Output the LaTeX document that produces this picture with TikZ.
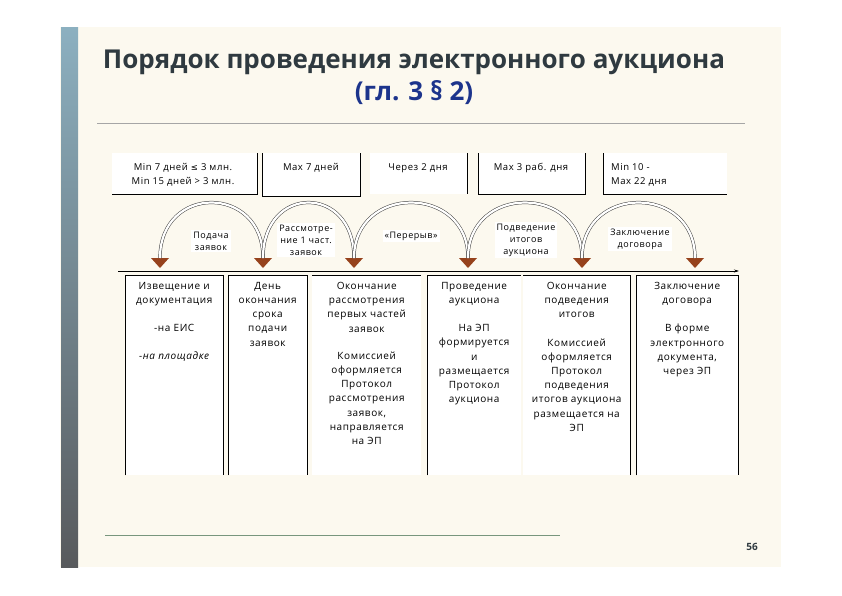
\documentclass[tikz,border=0pt]{standalone}
\usepackage{fontspec}
\setmainfont{Open Sans}[LetterSpace=6]
\newfontfamily\titlefont{Open Sans}
\newfontfamily\symfont{DejaVu Sans}
\usetikzlibrary{arrows.meta,positioning}
\definecolor{slidebg}{RGB}{252,249,239}
\definecolor{titlegray}{RGB}{47,58,64}
\definecolor{titleblue}{RGB}{28,52,140}
\definecolor{markbrown}{RGB}{150,66,28}
\definecolor{bartop}{RGB}{140,176,192}
\definecolor{barbot}{RGB}{88,90,92}
\definecolor{rulegreen}{RGB}{120,150,125}

\begin{document}
\begin{tikzpicture}[x=1pt,y=-1pt,
		panel/.style={fill=white,inner sep=0pt,anchor=north west},
		toptext/.style={font=\fontsize{9.5}{14}\selectfont,align=center,inner sep=0pt,anchor=north},
		coltext/.style={font=\fontsize{10}{14.2}\selectfont,align=center,inner sep=0pt,anchor=north},
		arclabel/.style={fill=white,font=\fontsize{9}{12}\selectfont,align=center,inner sep=2pt},
		edge/.style={black,line width=0.8pt},
		hop/.style={draw=black!75,line width=0.5pt,double=white,double distance=2.2pt},
		marker/.style={fill=markbrown}]
	% slide
	\fill[white] (0,0) rectangle (842,595);
	\fill[slidebg] (60,27) rectangle (781,567);
	\shade[top color=bartop,bottom color=barbot] (61,27) rectangle (78,567);
	\node[font=\titlefont\bfseries\fontsize{26}{32}\selectfont,text=titlegray,align=center] (title) at (414,77)
		{Порядок проведения электронного аукциона\\{\color{titleblue}(гл. 3 § 2)}};
	\draw[gray!70,line width=0.7pt] (97,123) -- (745,123);

	% top boxes
	\node[panel,minimum width=145pt,minimum height=41pt] (t1) at (112,153) {};
	\node[panel,minimum width=98pt,minimum height=43pt] (t2) at (262,153) {};
	\node[panel,minimum width=97pt,minimum height=41pt] (t3) at (370,153) {};
	\node[panel,minimum width=107pt,minimum height=41pt] (t4) at (478,153) {};
	\node[panel,minimum width=124pt,minimum height=41pt] (t5) at (603,153) {};
	\draw[edge] (t1.north east) |- (t1.south west);
	\draw[edge] (t2.north west) |- (t2.south east) -- (t2.north east);
	\draw[edge] (t3.north east) -- (t3.south east);
	\draw[edge] (t4.north west) |- (t4.south east) -- (t4.north east);
	\draw[edge] (t5.north west) |- (t5.south east);
	\node[toptext] (t1txt) at (183,163) {Min 7 дней {\symfont\fontsize{8.5}{10}\selectfont ≤} 3 млн.\\Min 15 дней > 3 млн.};
	\node[toptext] (t2txt) at (311,163) {Max 7 дней};
	\node[toptext] (t3txt) at (418,163) {Через 2 дня};
	\node[toptext] (t4txt) at (531,163) {Max 3 раб. дня};
	\node[toptext,align=left,anchor=north west] (t5txt) at (611,163) {Min 10 -\\Max 22 дня};

	% timeline
	\coordinate (tl) at (118,271);
	\coordinate (tr) at (739,271);
	\draw[-{Stealth[length=5pt,width=3pt]},line width=0.6pt] (tl) -- (tr);
	\foreach \x [count=\i] in {160,263,354,468,582,695} {
		\coordinate (m\i) at (\x,258);
		\fill[marker] (m\i) ++(-9,0) -- ++(18,0) -- ++(-9,10) -- cycle;
	}
	\draw[hop] (m1) .. controls +(0,-74) and +(0,-74) .. (m2);
	\draw[hop] (m2) .. controls +(0,-74) and +(0,-74) .. (m3);
	\draw[hop] (m3) .. controls +(0,-74) and +(0,-74) .. (m4);
	\draw[hop] (m4) .. controls +(0,-74) and +(0,-74) .. (m5);
	\draw[hop] (m5) .. controls +(0,-74) and +(0,-74) .. (m6);
	\node[arclabel] (l1) at (211,241) {Подача\\заявок};
	\node[arclabel] (l2) at (306,240) {Рассмотре-\\ние 1 част.\\заявок};
	\node[arclabel] (l3) at (411,236) {«Перерыв»};
	\node[arclabel] (l4) at (526,240) {Подведение\\итогов\\аукциона};
	\node[arclabel] (l5) at (640,239) {Заключение\\договора};

	% columns
	\node[panel,minimum width=98pt,minimum height=200pt] (c1) at (125,275) {};
	\node[panel,minimum width=79pt,minimum height=200pt] (c2) at (228,275) {};
	\node[panel,minimum width=109pt,minimum height=200pt] (c3) at (312,275) {};
	\node[panel,minimum width=94pt,minimum height=200pt] (c4) at (427,275) {};
	\node[panel,minimum width=107pt,minimum height=200pt] (c5) at (523,275) {};
	\node[panel,minimum width=102pt,minimum height=200pt] (c6) at (636,275) {};
	\draw[edge] (c1.south west) |- (c1.north east) -- (c1.south east);
	\draw[edge] (c2.south west) |- (c2.north east) -- (c2.south east);
	\draw[edge] (c3.north west) -- (c3.north east);
	\draw[edge] (c4.south west) |- (c4.north east);
	\draw[edge] (c5.north west) -| (c5.south east);
	\draw[edge] (c6.south west) |- (c6.north east) -- (c6.south east);
	\node[coltext] (c1txt) at ([yshift=-7pt]c1.north) {Извещение и\\документация\\[14pt]-на ЕИС\\[14pt]\itshape -на площадке};
	\node[coltext] (c2txt) at ([yshift=-7pt]c2.north) {День\\окончания\\срока\\подачи\\заявок};
	\node[coltext] (c3txt) at ([yshift=-7pt]c3.north) {Окончание\\рассмотрения\\первых частей\\заявок\\[13pt]Комиссией\\оформляется\\Протокол\\рассмотрения\\заявок,\\направляется\\на ЭП};
	\node[coltext] (c4txt) at ([yshift=-7pt]c4.north) {Проведение\\аукциона\\[14pt]На ЭП\\формируется\\и\\размещается\\Протокол\\аукциона};
	\node[coltext] (c5txt) at ([yshift=-7pt]c5.north) {Окончание\\подведения\\итогов\\[14pt]Комиссией\\оформляется\\Протокол\\подведения\\итогов аукциона\\размещается на\\ЭП};
	\node[coltext] (c6txt) at ([yshift=-7pt]c6.north) {Заключение\\договора\\[14pt]В форме\\электронного\\документа,\\через ЭП};

	% footer
	\draw[rulegreen,line width=0.8pt] (105,535) -- (560,535);
	\node[font=\titlefont\bfseries\fontsize{10}{12}\selectfont,text=titlegray] (page) at (752,547) {56};
\end{tikzpicture}
\end{document}
